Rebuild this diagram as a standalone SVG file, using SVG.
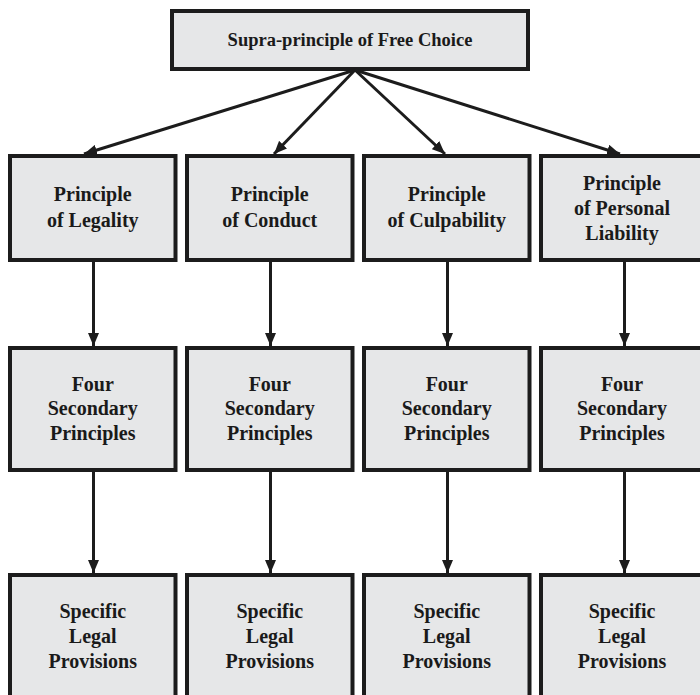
<svg xmlns="http://www.w3.org/2000/svg" width="700" height="695" viewBox="0 0 700 695">
  <style>
    .box { fill: #e6e7e8; stroke: #1c1c1c; stroke-width: 4; }
    .lbl { font-family: 'Liberation Serif', 'Times New Roman', serif; font-weight: bold; font-size: 20px; fill: #1a1a1a; text-anchor: middle; }
    .ttl { font-size: 18.5px; }
    .edge { stroke: #1c1c1c; stroke-width: 3; fill: none; marker-end: url(#arrow); }
  </style>
  <defs>
    <marker id="arrow" markerUnits="userSpaceOnUse" markerWidth="13" markerHeight="11" refX="13" refY="5.5" orient="auto">
      <path d="M0,0 L13,5.5 L0,11 z" fill="#1c1c1c"/>
    </marker>
  </defs>
  <rect width="700" height="695" fill="#ffffff"/>

  <!-- top node -->
  <g id="supra">
    <rect class="box" x="172" y="11" width="356" height="58"/>
    <text class="lbl ttl" x="350" y="46">Supra-principle of Free Choice</text>
  </g>

  <!-- principles -->
  <g id="p-legality">
    <rect class="box" x="10" y="156" width="165.5" height="104"/>
    <text class="lbl" x="92.75" y="201">Principle</text>
    <text class="lbl" x="92.75" y="227">of Legality</text>
  </g>
  <g id="p-conduct">
    <rect class="box" x="187" y="156" width="165.5" height="104"/>
    <text class="lbl" x="269.75" y="201">Principle</text>
    <text class="lbl" x="269.75" y="227">of Conduct</text>
  </g>
  <g id="p-culpability">
    <rect class="box" x="364" y="156" width="165.5" height="104"/>
    <text class="lbl" x="446.75" y="201">Principle</text>
    <text class="lbl" x="446.75" y="227">of Culpability</text>
  </g>
  <g id="p-liability">
    <rect class="box" x="541" y="156" width="165.5" height="104"/>
    <text class="lbl" x="622" y="190">Principle</text>
    <text class="lbl" x="622" y="215">of Personal</text>
    <text class="lbl" x="622" y="240">Liability</text>
  </g>

  <!-- secondary principles -->
  <g id="s-legality">
    <rect class="box" x="10" y="348" width="165.5" height="122"/>
    <text class="lbl" x="92.75" y="391">Four</text>
    <text class="lbl" x="92.75" y="415">Secondary</text>
    <text class="lbl" x="92.75" y="440">Principles</text>
  </g>
  <g id="s-conduct">
    <rect class="box" x="187" y="348" width="165.5" height="122"/>
    <text class="lbl" x="269.75" y="391">Four</text>
    <text class="lbl" x="269.75" y="415">Secondary</text>
    <text class="lbl" x="269.75" y="440">Principles</text>
  </g>
  <g id="s-culpability">
    <rect class="box" x="364" y="348" width="165.5" height="122"/>
    <text class="lbl" x="446.75" y="391">Four</text>
    <text class="lbl" x="446.75" y="415">Secondary</text>
    <text class="lbl" x="446.75" y="440">Principles</text>
  </g>
  <g id="s-liability">
    <rect class="box" x="541" y="348" width="165.5" height="122"/>
    <text class="lbl" x="622" y="391">Four</text>
    <text class="lbl" x="622" y="415">Secondary</text>
    <text class="lbl" x="622" y="440">Principles</text>
  </g>

  <!-- specific provisions -->
  <g id="l-legality">
    <rect class="box" x="10" y="575" width="165.5" height="140"/>
    <text class="lbl" x="92.75" y="618">Specific</text>
    <text class="lbl" x="92.75" y="643">Legal</text>
    <text class="lbl" x="92.75" y="668">Provisions</text>
  </g>
  <g id="l-conduct">
    <rect class="box" x="187" y="575" width="165.5" height="140"/>
    <text class="lbl" x="269.75" y="618">Specific</text>
    <text class="lbl" x="269.75" y="643">Legal</text>
    <text class="lbl" x="269.75" y="668">Provisions</text>
  </g>
  <g id="l-culpability">
    <rect class="box" x="364" y="575" width="165.5" height="140"/>
    <text class="lbl" x="446.75" y="618">Specific</text>
    <text class="lbl" x="446.75" y="643">Legal</text>
    <text class="lbl" x="446.75" y="668">Provisions</text>
  </g>
  <g id="l-liability">
    <rect class="box" x="541" y="575" width="165.5" height="140"/>
    <text class="lbl" x="622" y="618">Specific</text>
    <text class="lbl" x="622" y="643">Legal</text>
    <text class="lbl" x="622" y="668">Provisions</text>
  </g>

  <!-- connectors -->
  <g id="connectors">
    <line class="edge" x1="355" y1="70" x2="84" y2="154"/>
    <line class="edge" x1="355" y1="70" x2="274" y2="154"/>
    <line class="edge" x1="355" y1="70" x2="445" y2="154"/>
    <line class="edge" x1="355" y1="70" x2="620" y2="154"/>

    <line class="edge" x1="93.5" y1="262" x2="93.5" y2="346"/>
    <line class="edge" x1="270.5" y1="262" x2="270.5" y2="346"/>
    <line class="edge" x1="447.5" y1="262" x2="447.5" y2="346"/>
    <line class="edge" x1="624.5" y1="262" x2="624.5" y2="346"/>

    <line class="edge" x1="93.5" y1="472" x2="93.5" y2="573"/>
    <line class="edge" x1="270.5" y1="472" x2="270.5" y2="573"/>
    <line class="edge" x1="447.5" y1="472" x2="447.5" y2="573"/>
    <line class="edge" x1="624.5" y1="472" x2="624.5" y2="573"/>
  </g>
</svg>
